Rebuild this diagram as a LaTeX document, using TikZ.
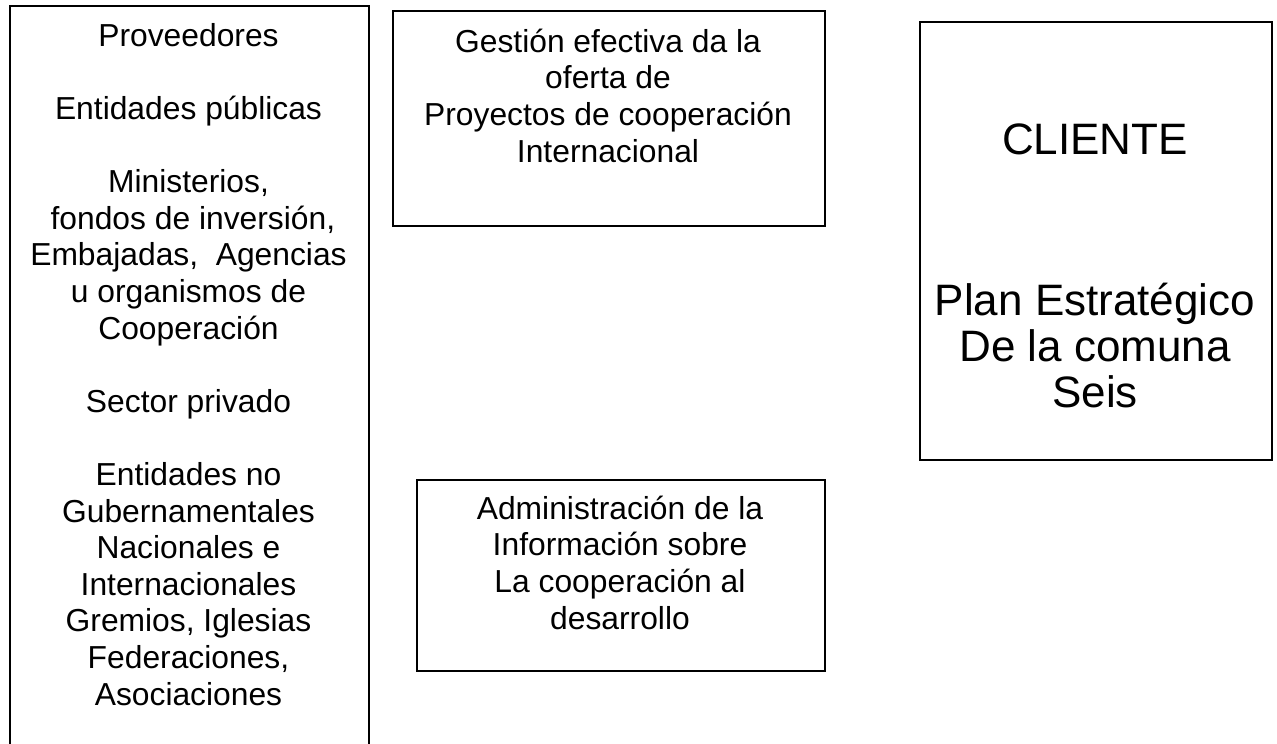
\documentclass[tikz,border=0pt]{standalone}
\usepackage{fontspec}
\setmainfont{Liberation Sans}
\begin{document}
\begin{tikzpicture}[x=1pt,y=-1pt,
  box/.style={draw=black, line width=2pt, inner sep=0pt, anchor=north west},
  txt/.style={align=center, inner sep=0pt, anchor=north, font=\fontsize{31.8}{36.6}\selectfont},
  bigtxt/.style={align=center, inner sep=0pt, anchor=north, font=\fontsize{44}{46}\selectfont}
]
\useasboundingbox (0,0) rectangle (1277,744);
\clip (0,0) rectangle (1277,744);
\fill[white] (0,0) rectangle (1277,744);
% boxes
\node[box, line width=1.6pt, minimum width=359pt, minimum height=770pt] (left) at (9,5) {};
\node[box, minimum width=432pt, minimum height=215pt] (midtop) at (392,10) {};
\node[box, minimum width=408pt, minimum height=191pt] (midbot) at (416,479) {};
\node[box, minimum width=352pt, minimum height=438pt] (right) at (919,21) {};
% texts
\node[txt] (lefttext) at (188.5,16) {\rule{0pt}{30pt}Proveedores\\[36.6pt]
Entidades públicas\\[36.6pt]
Ministerios,\\
\ fondos de inversión,\\
Embajadas,\ \ Agencias\\
u organismos de\\
Cooperación\\[36.6pt]
Sector privado\\[36.6pt]
Entidades no\\
Gubernamentales\\
Nacionales e\\
Internacionales\\
Gremios, Iglesias\\
Federaciones,\\
Asociaciones};
\node[txt] (midtoptext) at (608,22) {\rule{0pt}{30pt}Gestión efectiva da la\\
oferta de\\
Proyectos de cooperación\\
Internacional};
\node[txt] (midbottext) at (620,489) {\rule{0pt}{30pt}Administración de la\\
Información sobre\\
La cooperación al\\
desarrollo};
\node[bigtxt] (cliente) at (1095,114) {\rule{0pt}{40pt}CLIENTE};
\node[bigtxt] (plan) at (1095,275) {\rule{0pt}{40pt}Plan Estratégico\\
De la comuna\\
Seis};
\end{tikzpicture}
\end{document}
